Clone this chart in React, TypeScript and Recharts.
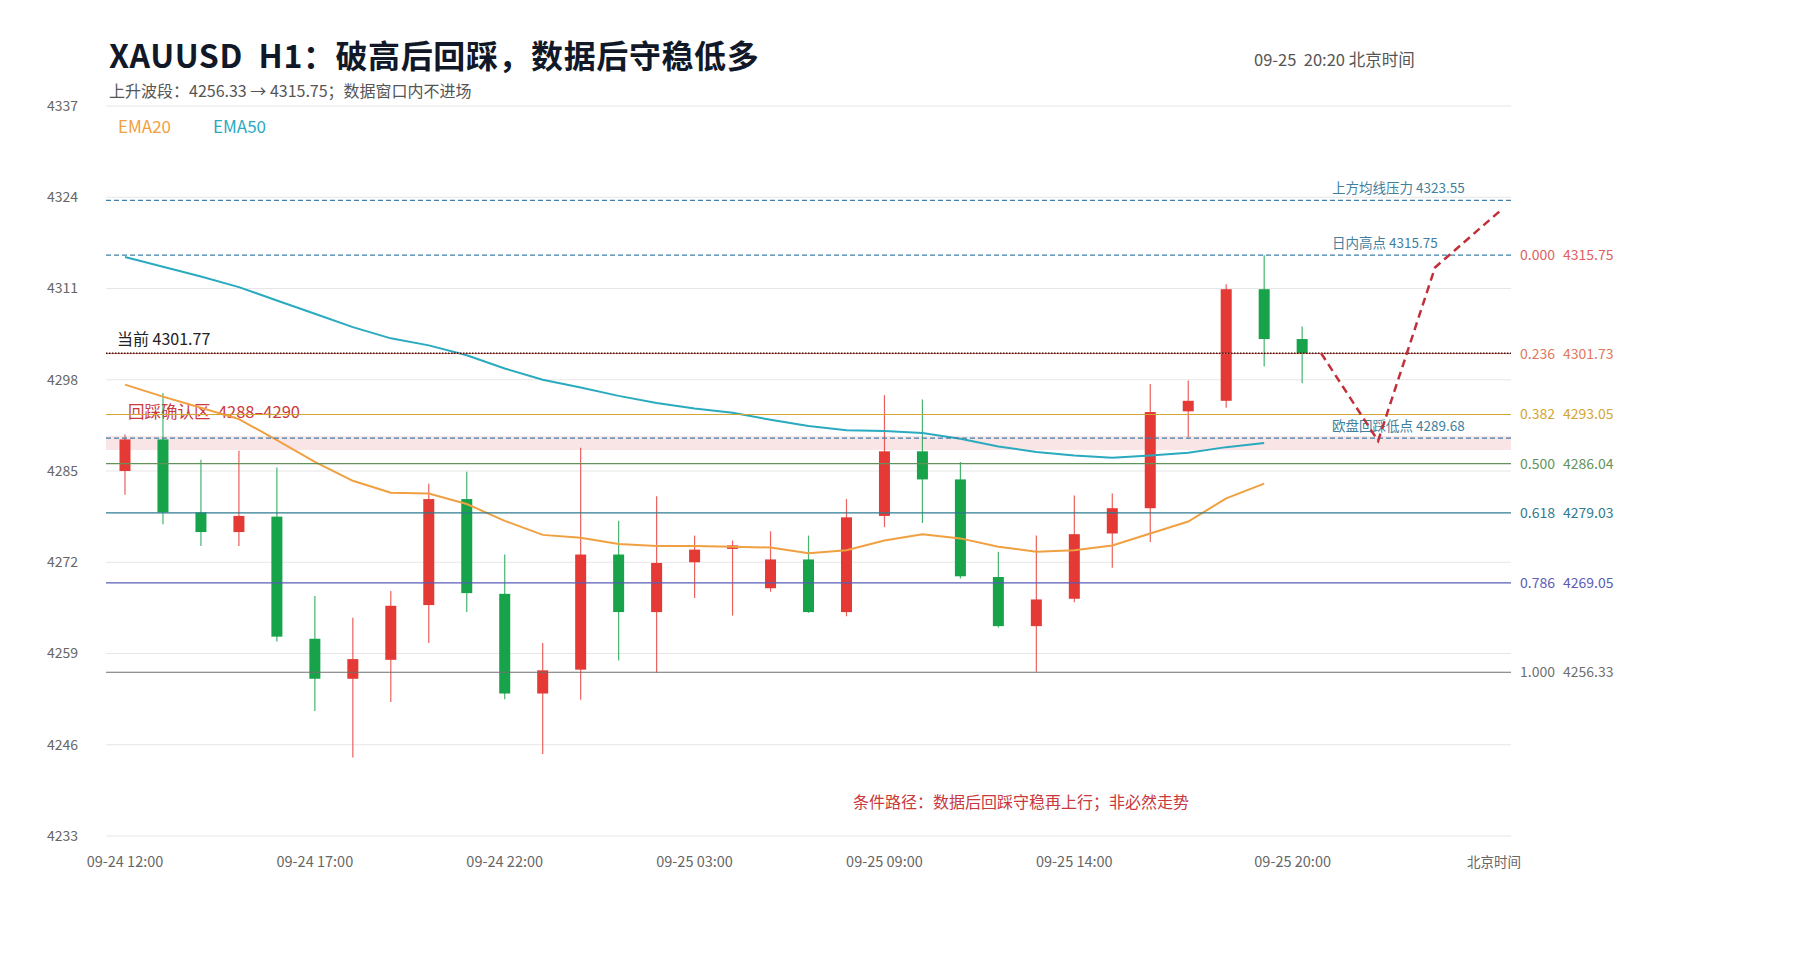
import React from 'react';
import {
  ComposedChart,
  Bar,
  Line,
  XAxis,
  YAxis,
  CartesianGrid,
  ReferenceLine,
  ReferenceArea,
} from 'recharts';

const FONT = '"Noto Sans CJK SC", "Noto Sans", sans-serif';

// x axis: candle index, labels shown at a few hours
const timeLabels = ['09-24 12:00', '09-24 17:00', '09-24 22:00', '09-25 03:00', '09-25 09:00', '09-25 14:00', '09-25 20:00'];
const timeTickPos = [0, 5, 10, 15, 20, 25, 30.75];
const priceTicks = [4233, 4246, 4259, 4272, 4285, 4298, 4311, 4324, 4337];

// H1 candles, 09-24 12:00 .. 09-25 20:00
const opens = [
  4285.0, 4289.5, 4279.1, 4276.3, 4278.5, 4261.1, 4255.4, 4258.1, 4265.9, 4281.0,
  4267.5, 4253.3, 4256.7, 4273.1, 4264.9, 4272.0, 4273.9, 4268.3, 4272.4, 4264.9,
  4278.6, 4287.8, 4283.8, 4269.9, 4262.9, 4266.8, 4276.1, 4279.7, 4293.5, 4295.0,
  4310.9, 4303.8,
];
const highs = [
  4290.2, 4296.1, 4286.6, 4287.9, 4285.5, 4267.2, 4264.1, 4267.9, 4283.2, 4284.9,
  4273.1, 4260.5, 4288.3, 4277.9, 4281.4, 4275.8, 4275.1, 4276.4, 4275.8, 4281.0,
  4295.8, 4295.2, 4286.3, 4273.5, 4275.8, 4281.5, 4281.8, 4297.4, 4297.9, 4311.6,
  4315.75, 4305.6,
];
const lows = [
  4281.6, 4277.4, 4274.3, 4274.3, 4260.7, 4250.8, 4244.2, 4252.1, 4260.5, 4264.9,
  4252.5, 4244.7, 4252.4, 4258.0, 4256.3, 4266.9, 4264.4, 4267.8, 4264.8, 4264.3,
  4277.0, 4277.6, 4269.7, 4262.7, 4256.4, 4266.3, 4271.2, 4274.9, 4289.8, 4294.0,
  4299.9, 4297.5,
];
const closes = [
  4289.5, 4279.1, 4276.3, 4278.6, 4261.4, 4255.4, 4258.2, 4265.8, 4281.0, 4267.6,
  4253.3, 4256.6, 4273.1, 4264.9, 4271.9, 4273.8, 4274.4, 4272.4, 4264.9, 4278.4,
  4287.8, 4283.8, 4270.0, 4262.9, 4266.7, 4276.0, 4279.7, 4293.4, 4295.0, 4310.9,
  4303.8, 4301.77,
];
const ema20 = [
  4297.3, 4295.6, 4294.0, 4292.4, 4289.4, 4286.3, 4283.6, 4281.9, 4281.8, 4280.3,
  4277.9, 4275.9, 4275.5, 4274.6, 4274.3, 4274.3, 4274.2, 4274.1, 4273.3, 4273.7,
  4275.1, 4276.0, 4275.4, 4274.2, 4273.5, 4273.7, 4274.4, 4276.1, 4277.8, 4281.1,
  4283.2,
];
const ema50 = [
  4315.5, 4314.1, 4312.7, 4311.2, 4309.3, 4307.4, 4305.5, 4303.9, 4302.9, 4301.5,
  4299.6, 4298.0, 4296.9, 4295.7, 4294.7, 4293.9, 4293.3, 4292.3, 4291.4, 4290.8,
  4290.7, 4290.4, 4289.6, 4288.5, 4287.7, 4287.2, 4286.9, 4287.2, 4287.6, 4288.4,
  4289.0,
];

// conditional path after the data window
const pathX = [31.5, 33, 34.5, 36.2];
const pathY = [4301.77, 4289.3, 4314.0, 4322.0];

// fibonacci retracement of 4256.33 -> 4315.75
const fibRatios = ['0.000', '0.236', '0.382', '0.500', '0.618', '0.786', '1.000'];
const fibPrices = [4315.75, 4301.73, 4293.05, 4286.04, 4279.03, 4269.05, 4256.33];
const fibColors = ['#e05f5f', '#e0775c', '#d4a532', '#63935a', '#2f7b8f', '#5b5cb6', '#6f6f6f'];

const keyNames = ['上方均线压力', '日内高点', '欧盘回踩低点'];
const keyPrices = [4323.55, 4315.75, 4289.68];

const currentPrice = 4301.77;
const zoneLow = 4288;
const zoneHigh = 4290;

const RED = '#e53935';
const GREEN = '#17a34a';

const data = opens.map((o, i) => ({
  i,
  o,
  h: highs[i],
  l: lows[i],
  c: closes[i],
  range: [lows[i], highs[i]],
  ema20: ema20[i],
  ema50: ema50[i],
}));

const pathData = pathX.map((x, k) => ({ i: x, path: pathY[k] }));

const Candle = (props: any) => {
  const { x, y, width, height, payload } = props;
  if (!payload || payload.o == null) return null;
  const { o, h, l, c } = payload;
  const k = h === l ? 0 : height / (h - l);
  const color = c >= o ? RED : GREEN;
  const cx = x + width / 2;
  const top = y + (h - Math.max(o, c)) * k;
  const bot = y + (h - Math.min(o, c)) * k;
  return (
    <g>
      <line x1={cx} x2={cx} y1={y} y2={y + height} stroke={color} strokeOpacity={0.8} strokeWidth={1.2} />
      <rect x={x} y={top} width={width} height={Math.max(bot - top, 1.5)} fill={color} />
    </g>
  );
};

const TextLabel = ({ viewBox, text, color, dx = 0, dy = 0, size = 13, fromRight = false }: any) => {
  if (!viewBox) return null;
  const x0 = fromRight ? viewBox.x + viewBox.width : viewBox.x;
  return (
    <text x={x0 + dx} y={viewBox.y + dy} fill={color} fontSize={size} style={{ whiteSpace: 'pre' }}>
      {text}
    </text>
  );
};

const FibLabel = ({ viewBox, ratio, price, color }: any) => {
  if (!viewBox) return null;
  const x0 = viewBox.x + viewBox.width;
  return (
    <g fill={color} fontSize={14}>
      <text x={x0 + 9} y={viewBox.y + 5}>{ratio}</text>
      <text x={x0 + 52} y={viewBox.y + 5}>{price.toFixed(2)}</text>
    </g>
  );
};

const abs = (left: number, top: number, extra: React.CSSProperties = {}): React.CSSProperties => ({
  position: 'absolute',
  left,
  top,
  lineHeight: 1,
  whiteSpace: 'pre',
  ...extra,
});

export default function App() {
  return (
    <div style={{ position: 'absolute', left: 0, top: 0, width: 1800, height: 960, background: '#fff', fontFamily: FONT }}>
      <div style={abs(109, 38, { fontSize: 32, fontWeight: 700, color: '#111827', letterSpacing: 0.6 })}>
        XAUUSD  H1：破高后回踩，数据后守稳低多
      </div>
      <div style={abs(109, 82, { fontSize: 16, color: '#555' })}>
        上升波段：4256.33 → 4315.75；数据窗口内不进场
      </div>
      <div style={abs(1254, 51, { fontSize: 16.5, color: '#555' })}>09-25  20:20 北京时间</div>

      <ComposedChart
        width={1800}
        height={960}
        data={data}
        margin={{ top: 106, right: 289, bottom: 94, left: 46 }}
      >
        <CartesianGrid vertical={false} stroke="#e6e6e6" />
        <XAxis
          dataKey="i"
          type="number"
          domain={[-0.5, 36.5]}
          allowDataOverflow
          ticks={timeTickPos}
          interval={0}
          tickFormatter={(v: number) => timeLabels[timeTickPos.indexOf(v)] ?? ''}
          axisLine={false}
          tickLine={false}
          tickMargin={15}
          tick={{ fill: '#666', fontSize: 14.5 }}
        />
        <YAxis
          type="number"
          domain={[4233, 4337]}
          allowDataOverflow
          ticks={priceTicks}
          interval={0}
          width={60}
          axisLine={false}
          tickLine={false}
          tickMargin={22}
          tick={{ fill: '#666', fontSize: 14 }}
        />

        <ReferenceArea
          y1={zoneLow}
          y2={zoneHigh}
          fill="#f7d4d6"
          fillOpacity={0.6}
          stroke="none"
          label={<TextLabel text={'回踩确认区  4288–4290'} color="#cc3b3b" size={16.5} dx={22} dy={-18} />}
        />

        <Bar dataKey="range" shape={<Candle />} barSize={11} isAnimationActive={false} />

        <Line
          dataKey="ema20"
          stroke="#f0a040"
          strokeWidth={2}
          dot={false}
          activeDot={false}
          isAnimationActive={false}
        />
        <Line
          dataKey="ema50"
          stroke="#2aaabf"
          strokeWidth={2}
          dot={false}
          activeDot={false}
          isAnimationActive={false}
        />

        {fibPrices.map((p, k) => (
          <ReferenceLine
            key={'fib' + k}
            y={p}
            stroke={k === 0 ? 'none' : fibColors[k]}
            strokeWidth={k === 1 ? 1 : 1.2}
            label={<FibLabel ratio={fibRatios[k]} price={p} color={fibColors[k]} />}
          />
        ))}

        {keyPrices.map((p, k) => (
          <ReferenceLine
            key={'key' + k}
            y={p}
            stroke="#3f7fa8"
            strokeWidth={1.4}
            strokeDasharray="5 3"
            label={<TextLabel text={keyNames[k] + ' ' + p.toFixed(2)} color="#3f7fa0" size={13.5} fromRight dx={-179} dy={-7} />}
          />
        ))}

        <ReferenceLine
          y={currentPrice}
          stroke="#401515"
          strokeWidth={1.6}
          strokeDasharray="1.5 1.5"
          label={<TextLabel text={'当前 ' + currentPrice.toFixed(2)} color="#222" size={16} dx={11} dy={-8} />}
        />

        <Line
          data={pathData}
          dataKey="path"
          stroke="#c0303a"
          strokeWidth={2.5}
          strokeDasharray="8 5"
          dot={false}
          activeDot={false}
          isAnimationActive={false}
        />
      </ComposedChart>

      <div style={abs(118, 117, { fontSize: 17, color: '#f0a040' })}>EMA20</div>
      <div style={abs(213, 117, { fontSize: 17, color: '#2aaabf' })}>EMA50</div>
      <div style={abs(1021, 793, { fontSize: 16, color: '#c8383c', transform: 'translateX(-50%)' })}>
        条件路径：数据后回踩守稳再上行；非必然走势
      </div>
      <div style={abs(1467, 855, { fontSize: 13.5, color: '#666' })}>北京时间</div>
    </div>
  );
}
